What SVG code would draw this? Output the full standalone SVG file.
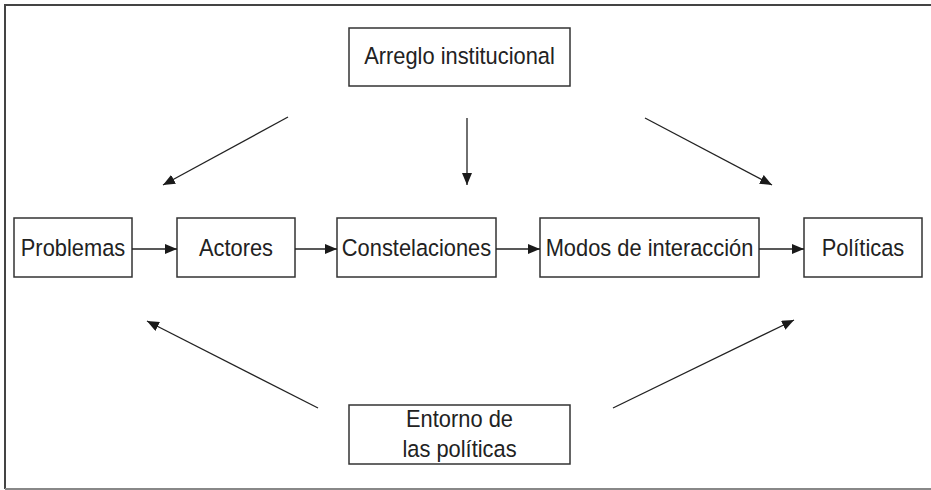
<svg xmlns="http://www.w3.org/2000/svg" width="931" height="490" viewBox="0 0 931 490">
<defs>
<marker id="ah" viewBox="0 0 12 10" refX="12" refY="5" markerWidth="12" markerHeight="10" markerUnits="userSpaceOnUse" orient="auto">
<path d="M0,0 L12,5 L0,10 Z" fill="#1a1a1a"/>
</marker>
</defs>
<style>
.box{fill:#fff;stroke:#333;stroke-width:1.5}
.t{font-family:"Liberation Sans",Arial,sans-serif;font-size:23.5px;fill:#222;text-anchor:middle}
.c{stroke:#222;stroke-width:1.3;fill:none;marker-end:url(#ah)}
</style>
<rect x="0" y="0" width="931" height="490" fill="#fff"/>
<path d="M5,489 L5,5 L940,5" fill="none" stroke="#444" stroke-width="2"/>
<line x1="5" y1="489" x2="931" y2="489" stroke="#888" stroke-width="2"/>
<g id="arreglo"><rect class="box" x="349" y="28" width="221" height="58"/><text class="t" transform="translate(459.5,64) scale(0.93,1)">Arreglo institucional</text></g>
<g id="problemas"><rect class="box" x="14" y="218" width="118" height="59"/><text class="t" transform="translate(73,256) scale(0.93,1)">Problemas</text></g>
<g id="actores"><rect class="box" x="177" y="218" width="118" height="59"/><text class="t" transform="translate(236,256) scale(0.93,1)">Actores</text></g>
<g id="constelaciones"><rect class="box" x="337" y="218" width="159" height="59"/><text class="t" transform="translate(416.5,256) scale(0.93,1)">Constelaciones</text></g>
<g id="modos"><rect class="box" x="540" y="218" width="219" height="59"/><text class="t" transform="translate(649.5,256) scale(0.93,1)">Modos de interacción</text></g>
<g id="politicas"><rect class="box" x="804" y="218" width="118" height="59"/><text class="t" transform="translate(863,256) scale(0.93,1)">Políticas</text></g>
<g id="entorno"><rect class="box" x="349" y="405" width="221" height="59"/><text class="t" transform="translate(459.5,427) scale(0.93,1)">Entorno de</text><text class="t" transform="translate(459.5,457) scale(0.93,1)">las políticas</text></g>
<g id="connectors">
<line class="c" x1="132" y1="249" x2="177" y2="249"/>
<line class="c" x1="295" y1="249" x2="337" y2="249"/>
<line class="c" x1="496" y1="249" x2="540" y2="249"/>
<line class="c" x1="759" y1="249" x2="804" y2="249"/>
<line class="c" x1="288" y1="117" x2="163" y2="185"/>
<line class="c" x1="467" y1="118" x2="467" y2="185"/>
<line class="c" x1="645" y1="118" x2="772" y2="185"/>
<line class="c" x1="318" y1="408" x2="147" y2="321"/>
<line class="c" x1="613" y1="408" x2="794" y2="320"/>
</g>
</svg>
